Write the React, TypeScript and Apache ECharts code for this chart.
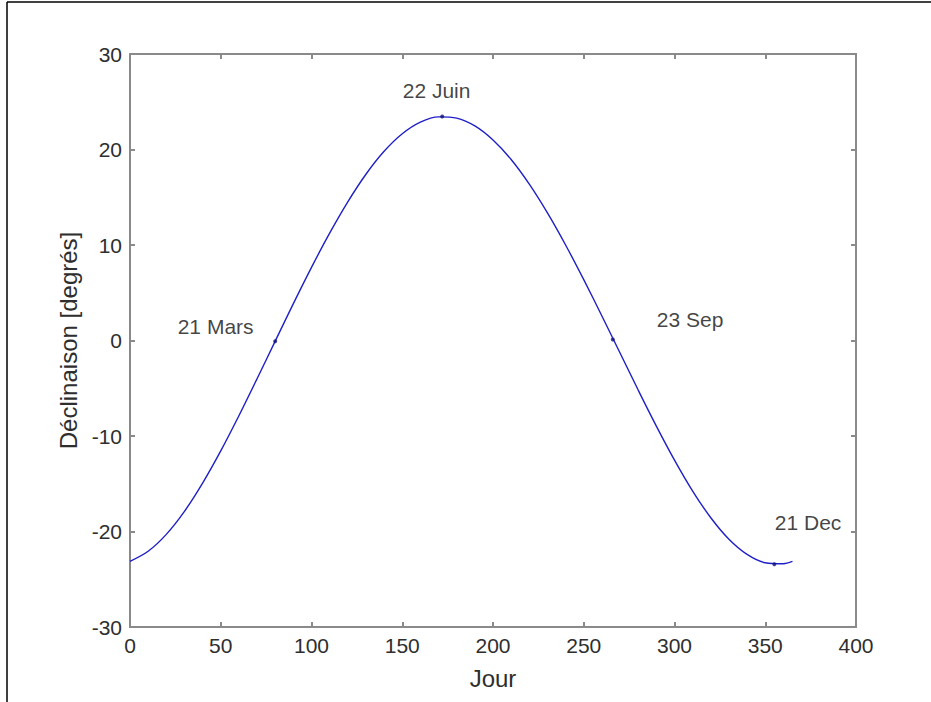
import React, { useEffect, useRef } from "react";
import * as echarts from "echarts";

// Day of year and solar declination (degrees)
const days = [0, 10, 20, 30, 40, 50, 60, 70, 80, 90, 100, 110, 120, 130, 140, 150, 160, 170, 180, 190, 200, 210, 220, 230, 240, 250, 260, 270, 280, 290, 300, 310, 320, 330, 340, 350, 360, 365];
const declination = [-23.13, -22.07, -20.3, -17.89, -14.93, -11.56, -7.88, -4.01, -0.07, 3.86, 7.66, 11.24, 14.52, 17.41, 19.81, 21.65, 22.87, 23.42, 23.29, 22.47, 21.0, 18.95, 16.37, 13.36, 10.0, 6.37, 2.57, -1.31, -5.19, -8.96, -12.52, -15.76, -18.56, -20.81, -22.4, -23.27, -23.37, -23.13];

// Marked dates
const markerDays = [80, 172, 266, 355];
const markerValues = [-0.07, 23.45, 0.1, -23.42];

// Annotation texts and their anchor positions (data units)
const annotationTexts = ["21 Mars", "22 Juin", "23 Sep", "21 Dec"];
const annotationX = [26, 150, 290, 355];
const annotationY = [1.5, 26.2, 2.2, -19.1];

const xTicks = { min: 0, max: 400, interval: 50 };
const yTicks = { min: -30, max: 30, interval: 10 };

const FONT = "'Liberation Sans', Arial, Helvetica, sans-serif";
const AXIS_COLOR = "#8a8a8a";
const LABEL_COLOR = "#2e2e2e";

export default function App() {
  const ref = useRef<HTMLDivElement>(null);

  useEffect(() => {
    if (!ref.current) return;
    const chart = echarts.init(ref.current, undefined, { renderer: "svg" });

    const axisLine = { show: true, onZero: false, lineStyle: { color: AXIS_COLOR, width: 2 } };
    const axisTick = { show: true, inside: true, length: 5, lineStyle: { color: AXIS_COLOR, width: 2 } };

    chart.setOption({
      animation: false,
      backgroundColor: "#ffffff",
      textStyle: { fontFamily: FONT },
      grid: { left: 130, right: 75, top: 54, bottom: 75, containLabel: false },
      graphic: [
        { type: "line", shape: { x1: 7, y1: 2, x2: 931, y2: 2 }, style: { stroke: "#000", lineWidth: 1.5 } },
        { type: "line", shape: { x1: 7, y1: 2, x2: 7, y2: 702 }, style: { stroke: "#000", lineWidth: 1.5 } },
      ],
      xAxis: [
        {
          type: "value",
          position: "bottom",
          min: xTicks.min,
          max: xTicks.max,
          interval: xTicks.interval,
          name: "Jour",
          nameLocation: "middle",
          nameGap: 39,
          nameTextStyle: { fontSize: 24, color: LABEL_COLOR, fontFamily: FONT },
          axisLine,
          axisTick,
          axisLabel: { fontSize: 21, color: LABEL_COLOR, margin: 8, fontFamily: FONT },
          splitLine: { show: false },
        },
        {
          type: "value",
          position: "top",
          min: xTicks.min,
          max: xTicks.max,
          interval: xTicks.interval,
          axisLine,
          axisTick,
          axisLabel: { show: false },
          splitLine: { show: false },
        },
      ],
      yAxis: [
        {
          type: "value",
          position: "left",
          min: yTicks.min,
          max: yTicks.max,
          interval: yTicks.interval,
          name: "Déclinaison [degrés]",
          nameLocation: "middle",
          nameGap: 47,
          nameTextStyle: { fontSize: 24, color: LABEL_COLOR, fontFamily: FONT },
          axisLine,
          axisTick,
          axisLabel: { fontSize: 21, color: LABEL_COLOR, margin: 8, fontFamily: FONT },
          splitLine: { show: false },
        },
        {
          type: "value",
          position: "right",
          min: yTicks.min,
          max: yTicks.max,
          interval: yTicks.interval,
          axisLine,
          axisTick,
          axisLabel: { show: false },
          splitLine: { show: false },
        },
      ],
      series: [
        {
          type: "line",
          data: days.map((d, i) => [d, declination[i]]),
          smooth: 0.3,
          showSymbol: false,
          lineStyle: { color: "#1f1fc8", width: 1.4 },
          z: 3,
        },
        {
          type: "scatter",
          data: markerDays.map((d, i) => [d, markerValues[i]]),
          symbol: "circle",
          symbolSize: 4,
          itemStyle: { color: "#10107a" },
          z: 4,
        },
        {
          type: "scatter",
          data: annotationX.map((x, i) => ({ value: [x, annotationY[i]], name: annotationTexts[i] })),
          symbol: "circle",
          symbolSize: 1,
          itemStyle: { color: "rgba(0,0,0,0)" },
          label: {
            show: true,
            position: "right",
            distance: 0,
            formatter: (p: any) => p.name,
            fontSize: 21,
            color: "#111111",
            fontFamily: FONT,
          },
          z: 5,
        },
      ],
    });

    return () => chart.dispose();
  }, []);

  return (
    <div
      ref={ref}
      style={{ position: "absolute", left: 0, top: 0, width: 931, height: 702 }}
    />
  );
}
